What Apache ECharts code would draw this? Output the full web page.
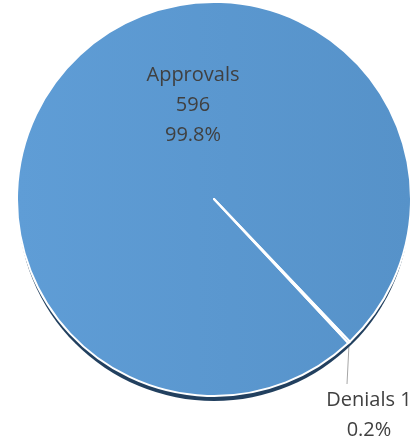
<!DOCTYPE html>
<html>
<head>
<meta charset="utf-8">
<script src="https://cdn.jsdelivr.net/npm/echarts@6/dist/echarts.min.js"></script>
<style>
  html, body { margin: 0; padding: 0; background: #fff; }
  #pie { width: 416px; height: 448px; }
</style>
</head>
<body>
<div id="pie"></div>
<script>
// data
var categories = ['Approvals', 'Denials'];
var counts = [596, 1];
var percents = ['99.8%', '0.2%'];

var chart = echarts.init(document.getElementById('pie'));

var total = counts.reduce(function (a, b) { return a + b; }, 0);

// where the labels sit (the reference places them by hand)
var labelSpots = [
  { x: 193, y: 105 },
  { x: 347, y: 415 }
];

chart.setOption({
  animation: false,
  series: [
    {
      // dark rim under the pie
      type: 'pie',
      silent: true,
      center: [214, 205],
      radius: 196,
      label: { show: false },
      labelLine: { show: false },
      itemStyle: { color: '#22405f', borderWidth: 0 },
      data: [{ name: 'rim', value: total }]
    },
    {
      type: 'pie',
      center: [214, 199],
      radius: 197,
      startAngle: -47,
      clockwise: true,
      avoidLabelOverlap: false,
      itemStyle: {
        color: new echarts.graphic.LinearGradient(0, 0, 1, 0, [
          { offset: 0, color: '#5f9dd6' },
          { offset: 1, color: '#5692c9' }
        ]),
        borderColor: '#ffffff',
        borderWidth: 2
      },
      label: {
        show: true,
        fontFamily: 'Open Sans',
        fontSize: 20,
        lineHeight: 30,
        color: '#404040',
        align: 'center',
        formatter: function (p) {
          if (p.dataIndex === 0) {
            return p.name + '\n' + p.value + '\n' + percents[p.dataIndex];
          }
          return p.name + ' ' + p.value + '\n' + percents[p.dataIndex];
        }
      },
      labelLine: {
        show: true,
        length: 20,
        length2: 0,
        lineStyle: { color: '#a6a6a6', width: 1 }
      },
      labelLayout: function (params) {
        var s = labelSpots[params.dataIndex];
        return { x: s.x, y: s.y, align: 'center', verticalAlign: 'middle' };
      },
      emphasis: { disabled: true },
      data: [
        { name: categories[0], value: counts[0], label: { position: 'inside' }, labelLine: { show: false } },
        { name: categories[1], value: counts[1], label: { position: 'outside', padding: [2, 0, 0, 44] } }
      ]
    }
  ]
});
</script>
</body>
</html>
